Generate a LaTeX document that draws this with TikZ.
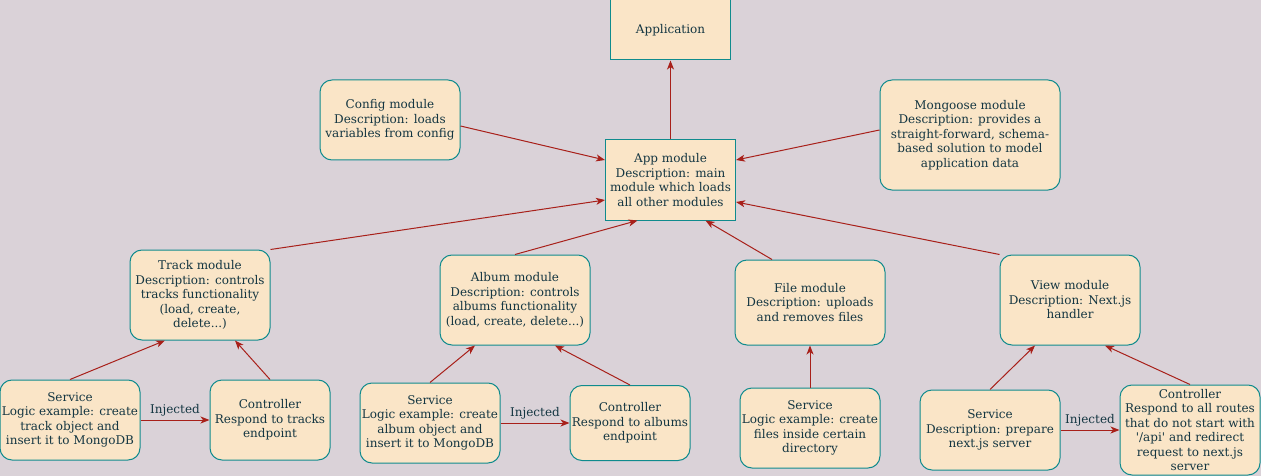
\documentclass[tikz,border=0pt]{standalone}
\usepackage{fontspec}
\setmainfont{DejaVu Serif}
\usetikzlibrary{positioning}
\usetikzlibrary{arrows.meta}
\definecolor{bgcol}{HTML}{DAD2D8}
\definecolor{boxfill}{HTML}{FAE5C7}
\definecolor{boxline}{HTML}{0F8B8D}
\definecolor{boxtext}{HTML}{143642}
\definecolor{arrcol}{HTML}{A8201A}
\tikzset{
every node/.style={ % Text of all boxes and labels
font=\fontsize{12}{14.5}\selectfont,
text=boxtext},
block/.style={ % Plain box (application, app module)
draw=boxline,
fill=boxfill,
line width=1pt,
align=center,
inner sep=0pt},
module/.style={block, rounded corners=12pt}, % Rounded box
dep/.style={ % Dependency arrow
draw=arrcol,
line width=1pt,
-{Stealth[length=9pt,width=7pt,inset=2.5pt]}},
inj/.style={midway, above, inner sep=3pt} % Label on service -> controller
}

\begin{document}
\begin{tikzpicture}[x=1pt, y=-1pt]
	\fill[bgcol] (0,0) rectangle (1261,476);
	\useasboundingbox (0,0) rectangle (1261,476);
	% top level
	\node[block, minimum width=120pt, minimum height=60pt] (application) at (670.5,30) {Application};
	\node[block, minimum width=130pt, minimum height=80pt] (app) at (670.5,180) {App module\\Description: main\\module which loads\\all other modules};
	\node[module, minimum width=140pt, minimum height=80pt] (config) at (390,120) {Config module\\Description: loads\\variables from config};
	\node[module, minimum width=180pt, minimum height=110pt] (mongoose) at (970,135) {Mongoose module\\Description: provides a\\straight-forward, schema-\\based solution to model\\application data};
	% feature modules
	\node[module, minimum width=140pt, minimum height=90pt] (track) at (200,295) {Track module\\Description: controls\\tracks functionality\\(load, create,\\delete...)};
	\node[module, minimum width=150pt, minimum height=90pt] (album) at (515,300) {Album module\\Description: controls\\albums functionality\\(load, create, delete...)};
	\node[module, minimum width=150pt, minimum height=85pt] (file) at (810,302.5) {File module\\Description: uploads\\and removes files};
	\node[module, minimum width=140pt, minimum height=90pt] (view) at (1070,300) {View module\\Description: Next.js\\handler};
	% services and controllers
	\node[module, minimum width=140pt, minimum height=80pt] (tracksvc) at (70,420) {Service\\Logic example: create\\track object and\\insert it to MongoDB};
	\node[module, minimum width=120pt, minimum height=80pt] (trackctl) at (270,420) {Controller\\Respond to tracks\\endpoint};
	\node[module, minimum width=140pt, minimum height=80pt] (albumsvc) at (430,423) {Service\\Logic example: create\\album object and\\insert it to MongoDB};
	\node[module, minimum width=120pt, minimum height=75pt] (albumctl) at (630,423) {Controller\\Respond to albums\\endpoint};
	\node[module, minimum width=140pt, minimum height=80pt] (filesvc) at (810,428) {Service\\Logic example: create\\files inside certain\\directory};
	\node[module, minimum width=140pt, minimum height=80pt] (viewsvc) at (990,430) {Service\\Description: prepare\\next.js server};
	\node[module, minimum width=140pt, minimum height=90pt] (viewctl) at (1190,430) {Controller\\Respond to all routes\\that do not start with\\{\textquotesingle}/api{\textquotesingle} and redirect\\request to next.js\\server};
	% arrows into app module
	\draw[dep] (app) -- (application);
	\draw[dep] ([yshift=-6pt]config.east) -- ([yshift=20pt]app.west);
	\draw[dep] ([yshift=5pt]mongoose.west) -- ([yshift=20pt]app.east);
	\draw[dep] (track.north east) -- ([yshift=-20pt]app.west);
	\draw[dep] (album.north) -- ([xshift=-33pt]app.south);
	\draw[dep] ([xshift=-38pt]file.north) -- ([xshift=35pt]app.south);
	\draw[dep] (view.north west) -- ([yshift=-22pt]app.east);
	% arrows into feature modules
	\draw[dep] (tracksvc.north) -- ([xshift=-35pt]track.south);
	\draw[dep] (trackctl.north) -- ([xshift=35pt]track.south);
	\draw[dep] (albumsvc.north) -- ([xshift=-40pt]album.south);
	\draw[dep] (albumctl.north) -- ([xshift=40pt]album.south);
	\draw[dep] (filesvc) -- (file);
	\draw[dep] (viewsvc.north) -- ([xshift=-35pt]view.south);
	\draw[dep] (viewctl.north) -- ([xshift=35pt]view.south);
	% injected
	\draw[dep] (tracksvc.east) -- (trackctl.west) node[inj] {Injected};
	\draw[dep] (albumsvc.east) -- (albumctl.west) node[inj] {Injected};
	\draw[dep] (viewsvc.east) -- (viewctl.west) node[inj] {Injected};
\end{tikzpicture}
\end{document}
